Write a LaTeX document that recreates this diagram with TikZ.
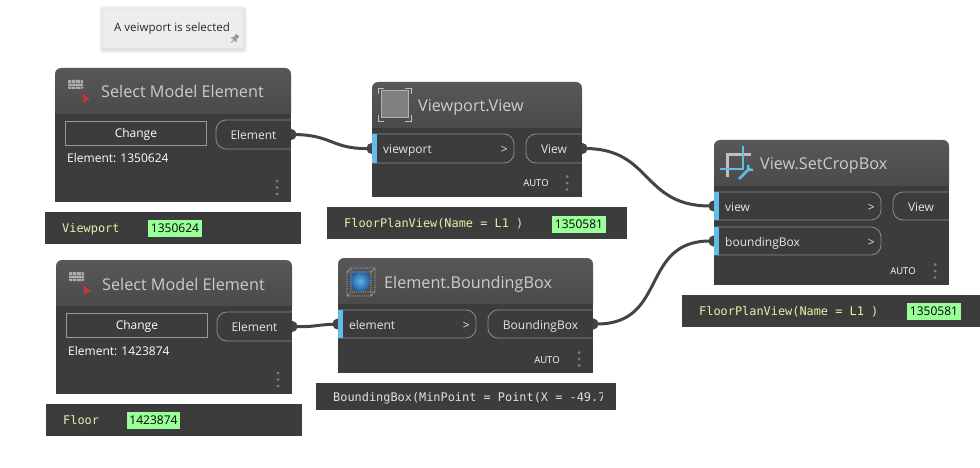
\documentclass[tikz,border=0pt]{standalone}
\usepackage{fontspec}
\setmainfont{Open Sans}
\setmonofont{DejaVu Sans Mono}
\usepackage{xcolor}
\usepackage{tikz}
\usetikzlibrary{positioning,calc,backgrounds,arrows.meta}

\definecolor{cardfill}{HTML}{3C3C3C}
\definecolor{headtop}{HTML}{585858}
\definecolor{headbot}{HTML}{4A4A4A}
\definecolor{wirecol}{HTML}{444444}
\definecolor{inblue}{HTML}{62BCE8}
\definecolor{idgreen}{HTML}{99FF99}
\definecolor{valyellow}{HTML}{EDEDA8}
\definecolor{cursorred}{HTML}{B83A3A}
\definecolor{ballin}{HTML}{5FB2EA}
\definecolor{ballout}{HTML}{1F5A9A}

\tikzset{
    card/.style={rectangle, inner sep=0pt, outer sep=0pt, anchor=north west},
    title/.style={font=\fontsize{16.2}{18}\selectfont, text=black!20, inner sep=0pt, anchor=west, text height=14pt, text depth=4pt},
    inport/.style={rectangle, inner sep=0pt, outer sep=0pt, anchor=north west, minimum height=29pt},
    outport/.style={inport, font=\fontsize{12}{14}\selectfont, text=black!10, text height=13pt, text depth=3pt},
    portedge/.style={draw=black!45, line width=0.8pt, rounded corners=10pt},
    porttext/.style={font=\fontsize{12}{14}\selectfont, text=black!10, inner sep=0pt, text height=13pt, text depth=3pt},
    changebox/.style={rectangle, draw=black!40, line width=0.8pt, inner sep=0pt, anchor=north west, minimum height=24pt,
        font=\fontsize{12}{14}\selectfont, text=white, text height=11pt, text depth=3pt},
    autotext/.style={font=\fontsize{9.5}{11}\selectfont, text=white, inner sep=0pt},
    bar/.style={rectangle, fill=cardfill, inner sep=0pt, outer sep=0pt, anchor=north west},
    valtext/.style={font=\ttfamily\fontsize{11.9}{14}\selectfont, text=valyellow, inner sep=0pt, text height=12pt, text depth=3pt},
    idtag/.style={rectangle, fill=idgreen, inner sep=0pt, minimum width=54pt, minimum height=17pt,
        font=\fontsize{12}{14}\selectfont, text=black},
    wire/.style={draw=wirecol, line width=3pt, {Circle[length=11pt,width=11pt]}-{Circle[length=11pt,width=11pt]},
        shorten <=-5.5pt, shorten >=-5.5pt}
}

% card with header: name, x, y, width, height, title
\newcommand{\nodecard}[6]{
    \node[card, minimum width=#4pt, minimum height=#5pt] (#1) at (#2,#3) {};
    \fill[cardfill] (#1.south west) rectangle ($(#1.north east)+(0,46)$);
    \shade[top color=headtop, bottom color=headbot] ($(#1.north west)+(0,46)$) [rounded corners=6pt] -- (#1.north west) -- (#1.north east) [sharp corners] -- ($(#1.north east)+(0,46)$) -- cycle;
    \node[title] (#1title) at ($(#1.north west)+(46,25)$) {#6};
}
% input port outline with blue bar
\newcommand{\inedge}[1]{
    \draw[portedge] (#1.north west) -- (#1.north east) -- (#1.south east) -- (#1.south west);
    \fill[inblue] (#1.north west) rectangle ($(#1.south west)+(5,0)$);
}
% output port outline, open to the right
\newcommand{\outedge}[1]{
    \draw[portedge] (#1.north east) -- (#1.north west) -- (#1.south west) -- (#1.south east);
}
\newcommand{\kebab}[2]{
    \foreach \dy in {0,6.5,13} {
        \fill[black!50] (#1,#2+\dy) circle (1.5pt);
    }
}
% brick and red cursor icon
\newcommand{\pickicon}[2]{
    \begin{scope}[shift={(#1,#2)}]
        \fill[black!32, rounded corners=1pt] (0,0) rectangle (15,9);
        \foreach \yy in {3,6} { \draw[black!55, line width=0.5pt] (0,\yy) -- (15,\yy); }
        \foreach \xx in {3,7.5,12} { \draw[black!55, line width=0.5pt] (\xx,0) -- (\xx,3) (\xx,6) -- (\xx,9); }
        \fill[cursorred, draw=black!70, line width=0.7pt] (13.7,11.7) -- (23.7,20) -- (19,21) -- (15,24) -- cycle;
    \end{scope}
}

\begin{document}
\begin{tikzpicture}[x=1pt, y=-1pt]
    \useasboundingbox (0,0) rectangle (980,468);

    % Note
    \node[rectangle, fill=black!7, inner sep=0pt, anchor=north west, minimum width=140pt, minimum height=39pt] (note) at (103,9) {};
    \node[font=\fontsize{11.5}{14}\selectfont, inner sep=0pt, right=11pt of note.west, yshift=0.5pt, text=black!85] (notetext) {A veiwport is selected};
    \fill[black!40, rotate around={-40:(234.5,39)}] (232.5,34) rectangle (236.5,39) (231,39) rectangle (238,40.2) (234.1,40.2) rectangle (234.9,44);

    % Select Model Element 1
    \nodecard{smeA}{55}{68}{236}{134}{Select Model Element}
    \pickicon{68}{80}
    \node[changebox, minimum width=141pt] (smeAchange) at (65,121) {Change};
    \node[outport, minimum width=75pt] (smeAout) at (216,120) {Element};
    \outedge{smeAout}
    \node[porttext, text=white, anchor=west] (smeAid) at (67,158) {Element: 1350624};
    \kebab{277}{181}
    \node[bar, minimum width=256pt, minimum height=32pt] (smeAbar) at (45,212) {};
    \node[valtext, right=17pt of smeAbar.west] (smeAval) {Viewport};
    \node[idtag] (smeAtag) at (175,228.5) {1350624};

    % Viewport.View
    \nodecard{vpv}{372}{82}{210}{115}{Viewport.View}
    \fill[black!50, draw=black!30, line width=1pt] (381,91) rectangle (408,118);
    \draw[black!25, line width=0.8pt] (378,94) |- (384,88) (405,88) -| (411,94) (411,115) |- (405,121) (384,121) -| (378,115);
    \node[inport, minimum width=142pt] (vpvin) at (372,134) {};
    \inedge{vpvin}
    \node[porttext, right=11pt of vpvin.west] (vpvinname) {viewport};
    \node[porttext, left=6pt of vpvin.east] (vpvinmark) {>};
    \node[outport, minimum width=56pt] (vpvout) at (526,134) {View};
    \outedge{vpvout}
    \node[autotext] (vpvauto) at (536,183.5) {AUTO};
    \kebab{567}{176.5}
    \node[bar, minimum width=300pt, minimum height=32pt] (vpvbar) at (327,207) {};
    \node[valtext, right=17pt of vpvbar.west] (vpvval) {FloorPlanView(Name = L1 )};
    \node[idtag] (vpvtag) at (579,224) {1350581};

    % View.SetCropBox
    \nodecard{crop}{714}{140}{235}{145}{View.SetCropBox}
    \draw[black!25, line width=3pt] (727,177) -- (727,154.5) -- (751,154.5);
    \draw[inblue, line width=2.5pt] (743,146) -- (743,169) -- (720,169);
    \draw[inblue, line width=2.5pt] (739,179) -- (750,168) (748,170) -- (753,170) (748,170) -- (748,165);
    \node[inport, minimum width=167pt, minimum height=28pt] (cropview) at (714,192) {};
    \inedge{cropview}
    \node[porttext, right=11pt of cropview.west] (cropviewname) {view};
    \node[porttext, left=6pt of cropview.east] (cropviewmark) {>};
    \node[inport, minimum width=167pt, minimum height=28pt] (cropbox) at (714,227) {};
    \inedge{cropbox}
    \node[porttext, right=11pt of cropbox.west] (cropboxname) {boundingBox};
    \node[porttext, left=6pt of cropbox.east] (cropboxmark) {>};
    \node[outport, minimum width=56pt, minimum height=28pt] (cropout) at (893,192) {View};
    \outedge{cropout}
    \node[autotext] (cropauto) at (903,271.5) {AUTO};
    \kebab{935}{264.5}
    \node[bar, minimum width=298pt, minimum height=32pt] (cropbar) at (682,295) {};
    \node[valtext, right=17pt of cropbar.west] (cropval) {FloorPlanView(Name = L1 )};
    \node[idtag] (croptag) at (934,311.5) {1350581};

    % Select Model Element 2
    \nodecard{smeB}{56}{260}{236}{134}{Select Model Element}
    \pickicon{69}{272}
    \node[changebox, minimum width=141pt] (smeBchange) at (66,313) {Change};
    \node[outport, minimum width=75pt] (smeBout) at (217,312) {Element};
    \outedge{smeBout}
    \node[porttext, text=white, anchor=west] (smeBid) at (68,350) {Element: 1423874};
    \kebab{278}{373}
    \node[bar, minimum width=256pt, minimum height=32pt] (smeBbar) at (46,404) {};
    \node[valtext, right=17pt of smeBbar.west] (smeBval) {Floor};
    \node[idtag, minimum width=53pt] (smeBtag) at (153.5,420.5) {1423874};

    % Element.BoundingBox
    \nodecard{ebb}{338}{258}{255}{115}{Element.BoundingBox}
    \shade[inner color=ballin, outer color=ballout] (360,281) circle (10.5pt);
    \draw[black!25, densely dotted, line width=0.8pt] (347,272) rectangle (371,296) (351,268) rectangle (375,292)
        (347,272) -- (351,268) (371,272) -- (375,268) (347,296) -- (351,292) (371,296) -- (375,292);
    \node[inport, minimum width=138pt, minimum height=28pt] (ebbin) at (338,310) {};
    \inedge{ebbin}
    \node[porttext, right=11pt of ebbin.west] (ebbinname) {element};
    \node[porttext, left=6pt of ebbin.east] (ebbinmark) {>};
    \node[outport, minimum width=105pt, minimum height=28pt] (ebbout) at (488,310) {BoundingBox};
    \outedge{ebbout}
    \node[autotext] (ebbauto) at (547,360) {AUTO};
    \kebab{579}{352.5}
    \node[bar, minimum width=300pt, minimum height=27pt] (ebbbar) at (316,383) {};
    \begin{scope}
        \clip (316,383) rectangle (602,410);
        \node[valtext, text=black!12, right=17pt of ebbbar.west] (ebbval) {BoundingBox(MinPoint = Point(X = -49.7};
    \end{scope}

    % Connectors
    \begin{scope}[on background layer]
        \draw[wire] (smeAout.east) .. controls (332,135) and (332,149) .. (vpvin.west);
        \draw[wire] (vpvout.east) .. controls (652,149) and (642,206) .. (cropview.west);
        \draw[wire] (smeBout.east) .. controls (315,327) and (315,325) .. (ebbin.west);
        \draw[wire] (ebbout.east) .. controls (668,324) and (640,241) .. (cropbox.west);
        % soft shadow of the note
        \foreach \s in {1,2,3,4} {
            \fill[black, opacity=0.03, rounded corners=\s pt] ($(note.north west)+(-\s,-\s+1)$) rectangle ($(note.south east)+(\s,\s+1)$);
        }
    \end{scope}
\end{tikzpicture}
\end{document}
